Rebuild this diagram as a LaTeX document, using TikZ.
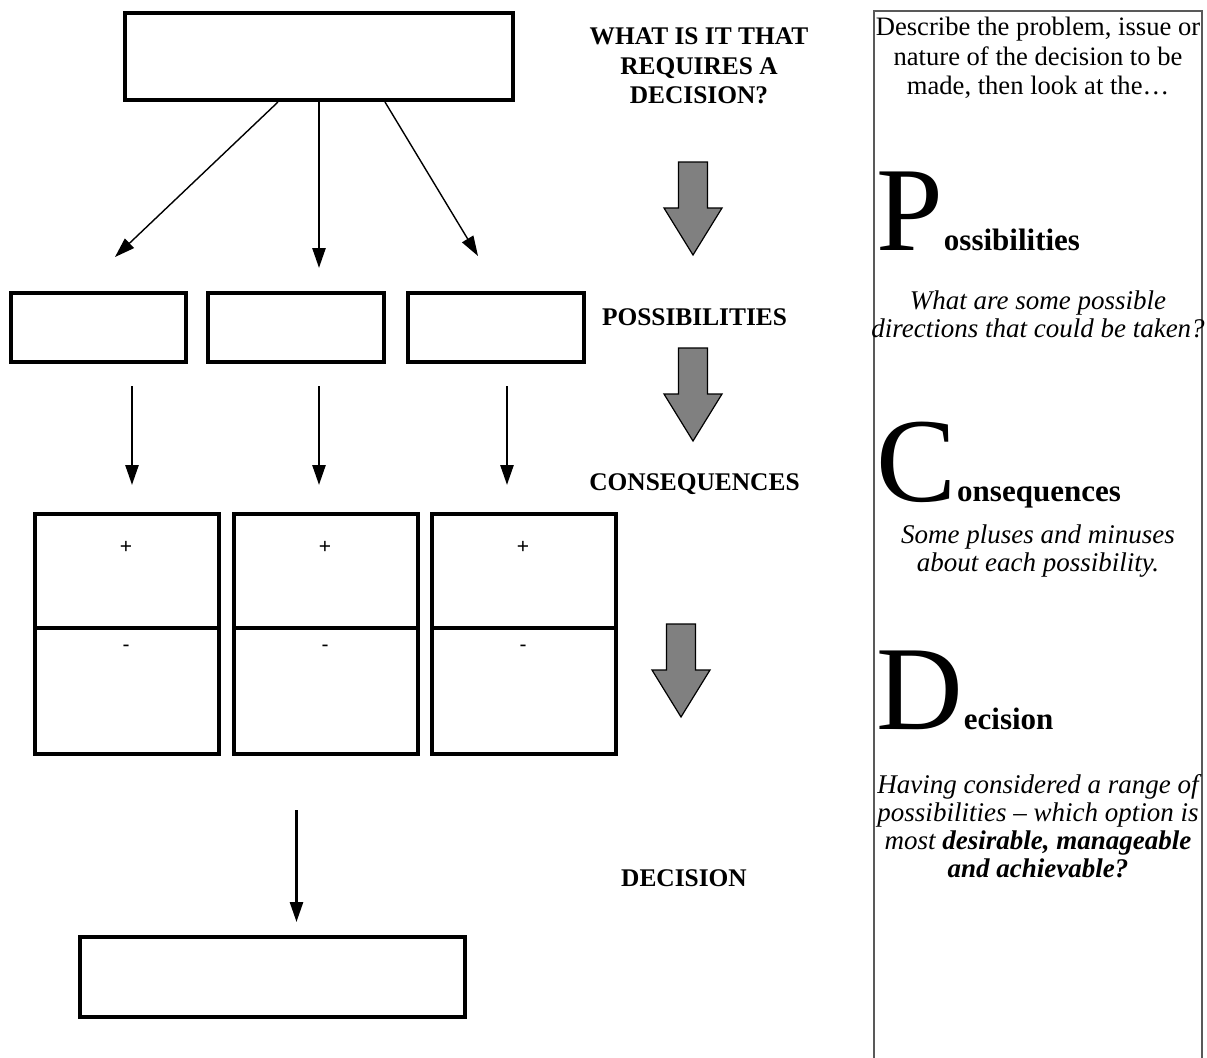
\documentclass[tikz,border=0pt]{standalone}
\usepackage{fontspec}
\setmainfont{Liberation Serif}
\newfontfamily\signfont{Liberation Sans}
\usetikzlibrary{positioning,arrows.meta,calc}

\tikzset{
  frame/.style={draw, line width=2pt, inner sep=0pt},
  link/.style={-{Triangle[length=10pt,width=6.5pt]}, line width=1.3pt},
  slant/.style={-{Triangle[length=10pt,width=6.5pt]}, line width=0.7pt},
  heading/.style={font=\fontsize{12.7}{14.8}\selectfont\bfseries, inner sep=0pt, align=center},
  sign/.style={font=\signfont\fontsize{10.5}{11}\selectfont, inner sep=0pt},
  notes/.style={font=\fontsize{13.3}{14.75}\selectfont, inner sep=0pt, align=center, anchor=north},
  hint/.style={font=\fontsize{13.5}{14}\selectfont\itshape, inner sep=0pt, align=center, anchor=north},
  initial/.style={font=\fontsize{60}{60}\selectfont, inner sep=0pt, anchor=base west},
  rest/.style={font=\fontsize{15.5}{16}\selectfont\bfseries, inner sep=0pt, anchor=base west},
  downarrow/.pic={\draw[fill=black!50, line width=0.6pt, line join=miter]
    (-14.5,0) -- (14.5,0) -- (14.5,46) -- (29,46) -- (0,93) -- (-29,46) -- (-14.5,46) -- cycle;}
}

\begin{document}
\begin{tikzpicture}[x=0.5pt, y=-0.5pt]
    \useasboundingbox (0,0) rectangle (1207,1057);

    %% left column
    \node[frame, minimum width=194pt, minimum height=43.5pt] (issue) at (319,56.5) {};

    \node[frame, minimum width=87.5pt, minimum height=34.5pt] (opt1) at (98.5,327.5) {};
    \node[frame, minimum width=88pt, minimum height=34.5pt] (opt2) at (296,327.5) {};
    \node[frame, minimum width=88pt, minimum height=34.5pt] (opt3) at (496,327.5) {};

        \coordinate (tipL) at (115,257);
        \coordinate (tipM) at (319,268);
        \coordinate (tipR) at (478,256);
        \draw[slant] ($(issue.south)+(-41,0)$) -- (tipL);
        \draw[link] (issue.south) -- (tipM);
        \draw[slant] ($(issue.south)+(66,0)$) -- (tipR);

    \node[frame, minimum width=92pt, minimum height=57pt] (pro1) at (127,571) {};
    \node[frame, minimum width=92pt, minimum height=57pt] (pro2) at (326,571) {};
    \node[frame, minimum width=92pt, minimum height=57pt] (pro3) at (524,571) {};
    \node[frame, minimum width=92pt, minimum height=63pt] (con1) at (127,691) {};
    \node[frame, minimum width=92pt, minimum height=63pt] (con2) at (326,691) {};
    \node[frame, minimum width=92pt, minimum height=63pt] (con3) at (524,691) {};

        \node[sign] (plus1) at (126,547) {+};
        \node[sign] (plus2) at (325,547) {+};
        \node[sign] (plus3) at (523,547) {+};
        \node[sign] (minus1) at (126,648) {-};
        \node[sign] (minus2) at (325,648) {-};
        \node[sign] (minus3) at (523,648) {-};

        \coordinate (down1) at (132,386);
        \coordinate (down2) at (319,386);
        \coordinate (down3) at (507,386);
        \coordinate (end1) at (132,485);
        \coordinate (end2) at (319,485);
        \coordinate (end3) at (507,485);
        \draw[link] (down1) -- (end1);
        \draw[link] (down2) -- (end2);
        \draw[link] (down3) -- (end3);

    \node[frame, minimum width=192.5pt, minimum height=40pt] (choice) at (272.5,977) {};
        \coordinate (pick) at (296.5,810);
        \coordinate (drop) at (296.5,922);
        \draw[link] (pick) -- (drop);

    %% middle labels and arrows
    \node[heading, anchor=north] (whatq) at (699,27.5) {WHAT IS IT THAT\\REQUIRES A\\DECISION?};
    \node[heading, anchor=base] (lblposs) at (694.5,325) {POSSIBILITIES};
    \node[heading, anchor=base] (lblcons) at (694.5,490) {CONSEQUENCES};
    \node[heading, anchor=base] (lbldec) at (684,886) {DECISION};

    \pic (stepA) at (693,162) {downarrow};
    \pic (stepB) at (693,348) {downarrow};
    \pic (stepC) at (681,624) {downarrow};

    %% right panel
    \draw[line width=1pt, black!65] (874,1062) -- (874,11) -- (1202,11) -- (1202,1062);

    \node[notes] (intro) at (1038,17) {Describe the problem, issue or\\nature of the decision to be\\made, then look at the\dots};

    \node[initial] (bigP) at (876,250) {P};
    \node[rest] (wordP) at (bigP.base east) {ossibilities};
    \node[hint] (askP) at (1038,290) {What are some possible\\directions that could be taken?};

    \node[initial] (bigC) at (876,501) {C};
    \node[rest] (wordC) at (bigC.base east) {onsequences};
    \node[hint] (askC) at (1038,524) {Some pluses and minuses\\about each possibility.};

    \node[initial] (bigD) at (876,729) {D};
    \node[rest] (wordD) at (bigD.base east) {ecision};
    \node[hint] (askD) at (1038,774) {Having considered a range of\\possibilities -- which option is\\most \textbf{desirable, manageable}\\\textbf{and achievable?}};
\end{tikzpicture}
\end{document}
